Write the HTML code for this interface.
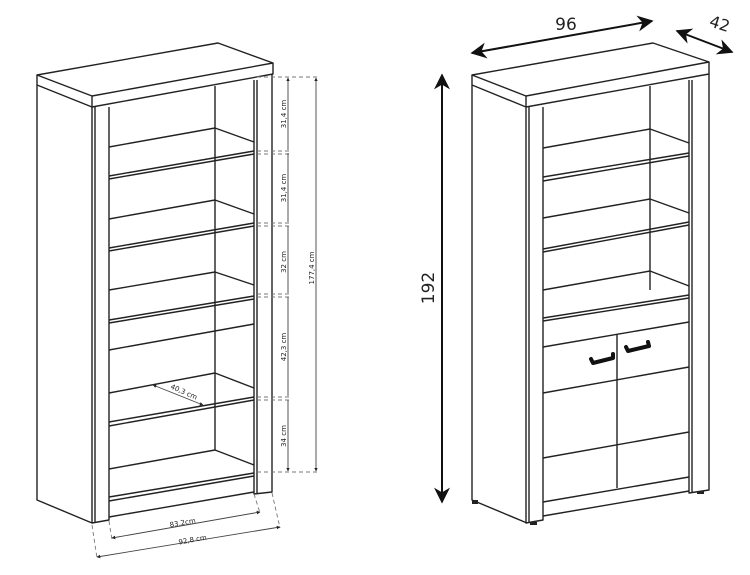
<!DOCTYPE html>
<html><head><meta charset="utf-8"><style>
html,body{margin:0;padding:0;background:#fff;}
svg{display:block;}
text{font-family:"DejaVu Sans","Liberation Sans",sans-serif;fill:#222;}
</style></head><body>
<svg width="750" height="575" viewBox="0 0 750 575" xmlns="http://www.w3.org/2000/svg">
<defs>
<marker id="a" viewBox="0 0 10 10" refX="9" refY="5" markerWidth="4" markerHeight="4" orient="auto-start-reverse"><path d="M0,0L10,5L0,10z" fill="#222"/></marker>
<marker id="b" viewBox="0 0 10 10" refX="9" refY="5" markerWidth="8" markerHeight="8" orient="auto-start-reverse"><path d="M0,0L10,5L0,10L3,5z" fill="#111"/></marker>
</defs>
<g fill="none" stroke="#222" stroke-width="1.4" stroke-linejoin="round">
<path d="M37,75L218,43L273,63L92,96Z"/>
<path d="M37,75V85L92,107L273,74V63M92,96V107"/>
<path d="M37,85V500L92,523"/>
<path d="M92,107V523L109,520V107M95,107V523"/>
<path d="M254,80V494L272,492V74M257,80V494"/>
<path d="M215,86V450"/>
<path d="M109,147L215,128L254,142M109,176L254,151M109,179L254,154"/>
<path d="M109,219L215,200L254,214M109,248L254,223M109,251L254,226"/>
<path d="M109,290L215,272L254,285M109,320L254,296M109,323L254,299"/>
<path d="M109,350L254,324"/>
<path d="M109,393L215,373L254,388M109,422L254,397M109,426L254,400"/>
<path d="M109,469L215,450L254,465M109,497L254,473M109,501L254,476"/>
<path d="M109,517L254,492"/>
</g>
<g fill="none" stroke="#444" stroke-width="0.9">
<path d="M153,385L203,405" marker-start="url(#a)" marker-end="url(#a)"/>
<g stroke-dasharray="4,3" stroke="#777">
<path d="M257,77H320M257,151H292M257,154H292M257,223H292M257,226H292M257,294H292M257,297H292M257,397H292M257,400H292M257,472H320"/>
<path d="M92,525L97,558M109,521L112,540M254,494L260,513M272,493L280,528"/>
</g>
<path d="M288,78V150M288,153V222M288,226V293M288,297V396M288,400V471" marker-start="url(#a)" marker-end="url(#a)"/>
<path d="M316,78V471" marker-start="url(#a)" marker-end="url(#a)"/>
<path d="M112,538L260,512" marker-start="url(#a)" marker-end="url(#a)"/>
<path d="M97,557L280,527" marker-start="url(#a)" marker-end="url(#a)"/>
</g>
<g font-size="7">
<text transform="translate(286,114) rotate(-90)" text-anchor="middle">31,4 cm</text>
<text transform="translate(286,188) rotate(-90)" text-anchor="middle">31,4 cm</text>
<text transform="translate(286,262) rotate(-90)" text-anchor="middle">32 cm</text>
<text transform="translate(286,347) rotate(-90)" text-anchor="middle">42,3 cm</text>
<text transform="translate(286,436) rotate(-90)" text-anchor="middle">34 cm</text>
<text transform="translate(314,268) rotate(-90)" text-anchor="middle">177,4 cm</text>
<text transform="translate(183,394) rotate(24)" text-anchor="middle">40,3 cm</text>
<text transform="translate(183,525) rotate(-10)" text-anchor="middle">83,2cm</text>
<text transform="translate(193,542) rotate(-10)" text-anchor="middle">92,8 cm</text>
</g>
<g fill="none" stroke="#222" stroke-width="1.4" stroke-linejoin="round">
<path d="M472,75L653,43L709,62L526,96Z"/>
<path d="M472,75V85L526,107L709,74V62M526,96V107"/>
<path d="M472,85V500L527,523"/>
<path d="M526,107V523L543,520V107M529,107V523"/>
<path d="M689,80V493L709,490V74M692,80V493"/>
<path d="M650,86V290"/>
<path d="M543,148L650,129L689,143M543,177L689,153M543,181L689,156"/>
<path d="M543,218L650,199L689,213M543,249L689,222M543,252L689,225"/>
<path d="M543,290L650,271L689,286M543,318L689,295M543,321L689,298"/>
<path d="M543,347L689,322"/>
<path d="M617,335V488"/>
<path d="M543,393L689,367M543,458L689,432M543,502L689,477M543,516L689,491"/>
</g>
<g fill="#222">
<rect x="472" y="500" width="6" height="4"/>
<rect x="530" y="522" width="7" height="3"/>
<rect x="697" y="491" width="7" height="3"/>
</g>
<g fill="none" stroke="#111" stroke-width="4" stroke-linecap="round" stroke-linejoin="round">
<path d="M591,359L593,363L613,358L613,354"/>
<path d="M626,347L628,351L649,346L648,342"/>
</g>
<g fill="none" stroke="#111" stroke-width="2">
<path d="M472,53L652,21" marker-start="url(#b)" marker-end="url(#b)"/>
<path d="M677,31L732,52" marker-start="url(#b)" marker-end="url(#b)"/>
<path d="M442,75V502" marker-start="url(#b)" marker-end="url(#b)"/>
</g>
<text x="566" y="30" font-size="17" text-anchor="middle">96</text>
<text transform="translate(718,29) rotate(18)" font-size="16" text-anchor="middle">42</text>
<text transform="translate(434,288) rotate(-90)" font-size="17" text-anchor="middle">192</text>
</svg>
</body></html>
